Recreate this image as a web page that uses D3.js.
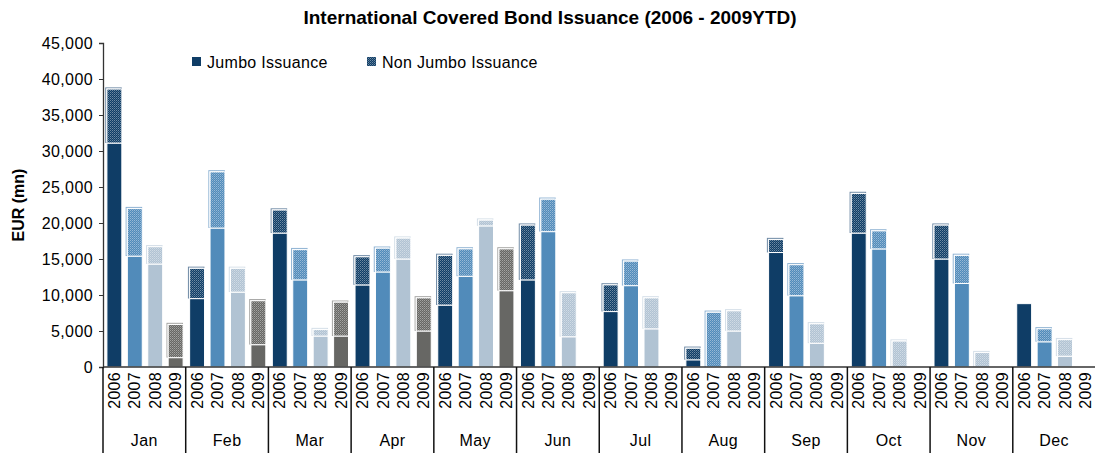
<!DOCTYPE html>
<html>
<head>
<meta charset="utf-8">
<script src="https://cdn.jsdelivr.net/npm/d3@7"></script>
<style>
  body { margin: 0; background: #fff; }
  text { font-family: "Liberation Sans", Arial, sans-serif; fill: #000; }
</style>
</head>
<body>
<svg id="chart" width="1095" height="453"></svg>
<script>
// values, EUR mn
const months = ["Jan","Feb","Mar","Apr","May","Jun","Jul","Aug","Sep","Oct","Nov","Dec"]
const years = ["2006","2007","2008","2009"]
const yTicks = [0,5000,10000,15000,20000,25000,30000,35000,40000,45000]

const jumbo2006    = [31100, 9500, 18600, 11400, 8600, 12100, 7700, 1000, 15900, 18600, 15000, 8800]
const nonJumbo2006 = [7500, 4200, 3200, 3900, 6900, 7600, 3700, 1600, 1800, 5500, 4700, 0]
const jumbo2007    = [15400, 19300, 12100, 13200, 12600, 18800, 11300, 0, 9900, 16400, 11600, 3500]
const nonJumbo2007 = [6600, 7800, 4200, 3300, 3800, 4500, 3400, 7600, 4300, 2500, 3900, 1800]
const jumbo2008    = [14300, 10400, 4300, 15000, 19600, 4200, 5300, 5000, 3300, 0, 0, 1500]
const nonJumbo2008 = [2400, 3300, 900, 2900, 800, 6100, 4300, 2800, 2700, 3600, 2000, 2300]
const jumbo2009    = [1300, 3100, 4300, 5000, 10600, 0, 0, 0, 0, 0, 0, 0]
const nonJumbo2009 = [4600, 6100, 4700, 4600, 5800, 0, 0, 0, 0, 0, 0, 0]

const jumbo = {"2006": jumbo2006, "2007": jumbo2007, "2008": jumbo2008, "2009": jumbo2009}
const nonJumbo = {"2006": nonJumbo2006, "2007": nonJumbo2007, "2008": nonJumbo2008, "2009": nonJumbo2009}

const yearColor = {"2006": "#0f3d66", "2007": "#518bba", "2008": "#b1c3d3", "2009": "#676764"}
const frameColor = {"2006": "#6f8aa5", "2007": "#8fb3d3", "2008": "#d5dfe8", "2009": "#a5a5a3"}

let svg = d3.select("#chart")
const LEFT = 103, RIGHT = 1095.5, TOP = 43, BOTTOM = 367
const FS = "16px", LS = "0.4px"

// fine dither for the non jumbo part
let defs = svg.append("defs")
years.forEach(yr => {
    let p = defs.append("pattern")
        .attr("id", "hatch" + yr)
        .attr("patternUnits", "userSpaceOnUse")
        .attr("width", 2).attr("height", 2)
    p.append("rect").attr("width", 2).attr("height", 2).attr("fill", yearColor[yr])
    p.append("rect").attr("x", 0).attr("y", 0).attr("width", 1).attr("height", 1)
        .attr("fill", "#fff").attr("fill-opacity", 0.4)
    p.append("rect").attr("x", 1).attr("y", 1).attr("width", 1).attr("height", 1)
        .attr("fill", "#fff").attr("fill-opacity", 0.22)
})

let x = d3.scaleBand().domain(months).range([LEFT, RIGHT]).padding(0)
let xIn = d3.scaleBand().domain(years).range([0, x.bandwidth()])
    .paddingInner(0.27).paddingOuter(0.16).align(0.6)
let y = d3.scaleLinear().domain([0, 45000]).range([BOTTOM, TOP])

// title
svg.append("text")
    .attr("x", 550).attr("y", 24)
    .attr("text-anchor", "middle")
    .style("font-size", "19px").style("font-weight", "bold")
    .text("International Covered Bond Issuance (2006 - 2009YTD)")

// y axis
let yAxis = svg.append("g")
    .attr("transform", "translate(" + LEFT + ",0)")
    .call(d3.axisLeft(y).tickValues(yTicks).tickFormat(d3.format(",")).tickSize(4).tickPadding(6))
yAxis.select(".domain").attr("stroke", "#333").attr("stroke-width", 1.3)
yAxis.selectAll(".tick line").attr("stroke", "#333")
yAxis.selectAll("text")
    .style("font-size", FS).style("letter-spacing", LS)
    .style("font-family", "Liberation Sans, Arial, sans-serif").attr("fill", "#111")

svg.append("text")
    .attr("transform", "translate(24," + ((TOP + BOTTOM) / 2) + ") rotate(-90)")
    .attr("text-anchor", "middle")
    .style("font-size", FS).style("font-weight", "bold")
    .text("EUR (mn)")

// bars
let rows = []
months.forEach((m, i) => {
    years.forEach(yr => {
        rows.push({month: m, year: yr, j: jumbo[yr][i], n: nonJumbo[yr][i]})
    })
})
let g = svg.append("g")
rows.forEach(d => {
    let bx = x(d.month) + xIn(d.year)
    let bw = xIn.bandwidth()
    if (d.j > 0) {
        g.append("rect")
            .attr("x", bx).attr("y", y(d.j))
            .attr("width", bw).attr("height", y(0) - y(d.j))
            .attr("fill", yearColor[d.year])
            .attr("stroke", "#fff").attr("stroke-width", 1)
    }
    if (d.n > 0) {
        let top = y(d.j + d.n), bot = y(d.j)
        g.append("rect")
            .attr("x", bx - 1.2).attr("y", top - 1.2)
            .attr("width", bw + 0.6).attr("height", bot - top + 0.6)
            .attr("fill", "none")
            .attr("stroke", frameColor[d.year]).attr("stroke-width", 1)
        g.append("rect")
            .attr("x", bx).attr("y", top)
            .attr("width", bw).attr("height", bot - top)
            .attr("fill", "url(#hatch" + d.year + ")")
            .attr("stroke", "#fff").attr("stroke-width", 1)
    }
})

// x axis: baseline, month separators, year and month labels
svg.append("line")
    .attr("x1", LEFT).attr("x2", RIGHT).attr("y1", BOTTOM).attr("y2", BOTTOM)
    .attr("stroke", "#333").attr("stroke-width", 1.5)
svg.append("g").selectAll("line")
    .data(months)
    .join("line")
    .attr("x1", d => x(d)).attr("x2", d => x(d))
    .attr("y1", BOTTOM).attr("y2", 453)
    .attr("stroke", "#111").attr("stroke-width", 1.5)

months.forEach(m => {
    years.forEach(yr => {
        svg.append("text")
            .attr("transform", "translate(" + (x(m) + xIn(yr) + xIn.bandwidth() / 2) + "," + (BOTTOM + 5) + ") rotate(-90)")
            .attr("text-anchor", "end")
            .attr("dy", "0.35em")
            .style("font-size", FS).style("letter-spacing", "0.3px")
            .text(yr)
    })
    svg.append("text")
        .attr("x", x(m) + x.bandwidth() / 2).attr("y", 446)
        .attr("text-anchor", "middle")
        .style("font-size", FS).style("letter-spacing", LS)
        .text(m)
})

// legend
const legendItems = [
    {label: "Jumbo Issuance", x: 192, fill: yearColor["2006"]},
    {label: "Non Jumbo Issuance", x: 367, fill: "url(#hatch2006)"}
]
legendItems.forEach(l => {
    svg.append("rect")
        .attr("x", l.x).attr("y", 57).attr("width", 9).attr("height", 9)
        .attr("fill", l.fill)
    svg.append("text")
        .attr("x", l.x + 15).attr("y", 68)
        .style("font-size", FS).style("letter-spacing", "0.3px")
        .text(l.label)
})
</script>
</body>
</html>
